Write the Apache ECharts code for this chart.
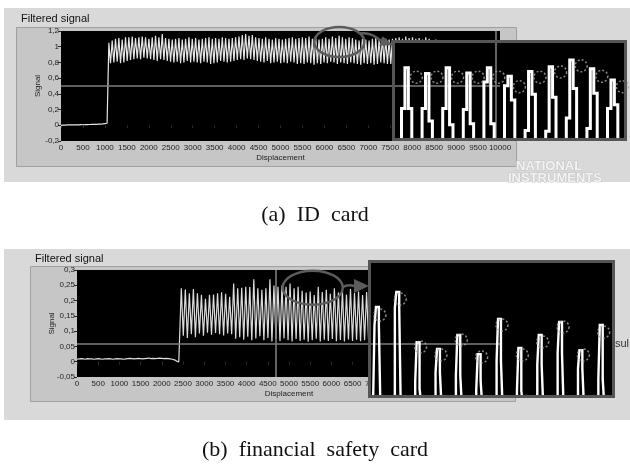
<!DOCTYPE html>
<html>
<head>
<meta charset="utf-8">
<script src="https://cdn.jsdelivr.net/npm/echarts@6/dist/echarts.min.js"></script>
<style>
  html, body { margin: 0; padding: 0; background: #ffffff; }
  #chart { width: 630px; height: 465px; }
</style>
</head>
<body>
<div id="chart"></div>
<script>
// ===== (a) ID card : filtered signal =====
const flatStep = 50;                       // sampling step of the quiet lead-in
const flatA = [0.000,0.003,0.002,0.005,0.004,0.006,0.004,0.007,0.006,0.008,0.007,
               0.009,0.008,0.010,0.011,0.012,0.011,0.014,0.015,0.017,0.020,0.026];
const oscStartA = 1090;                    // displacement of first peak
const halfCycleA = 38;                     // peak-to-trough spacing
const peaksA = [1.05,1.08,1.10,1.11,1.09,1.12,
  1.12,1.13,1.11,1.12,1.13,1.12,1.10,
  1.12,1.14,1.12,1.16,1.11,1.10,
  1.09,1.10,1.11,1.09,1.10,1.12,1.10,
  1.11,1.09,1.10,1.11,1.12,1.10,
  1.11,1.10,1.12,1.11,1.10,1.11,1.12,
  1.13,1.15,1.16,1.14,1.15,1.12,
  1.11,1.10,1.12,1.10,1.09,1.11,1.10,
  1.09,1.10,1.11,1.12,1.10,1.11,
  1.12,1.11,1.13,1.10,1.12,1.09,1.10,
  1.12,1.10,1.13,1.11,1.14,1.12,
  1.10,1.12,1.11,1.09,1.08,1.10,1.09,
  1.08,1.10,1.12,1.09,1.11,1.10,
  1.09,1.10,1.11,1.12,1.10,1.13,1.11,1.12,1.10,1.11,1.09,1.12,
  1.10,1.08,1.09,1.07,1.08,1.06,1.07,1.05,1.06,1.05,1.06,1.04];
const troughsA = [0.79,0.80,0.81,0.79,0.80,0.82,
  0.83,0.84,0.85,0.84,0.86,0.85,0.84,
  0.83,0.82,0.84,0.83,0.82,0.81,
  0.80,0.81,0.79,0.80,0.82,0.80,0.81,
  0.80,0.79,0.81,0.80,0.78,0.79,
  0.80,0.82,0.81,0.80,0.81,0.82,0.83,
  0.84,0.83,0.85,0.84,0.83,0.82,
  0.81,0.80,0.82,0.79,0.80,0.81,0.79,
  0.80,0.79,0.81,0.80,0.78,0.79,
  0.78,0.80,0.79,0.77,0.79,0.78,0.80,
  0.79,0.81,0.80,0.78,0.80,0.79,
  0.78,0.80,0.79,0.78,0.77,0.79,0.78,
  0.79,0.77,0.78,0.80,0.79,0.78,
  0.78,0.79,0.77,0.80,0.78,0.79,0.77,0.78,0.80,0.79,0.78,0.77,
  0.79,0.78,0.80,0.78,0.79,0.77,0.78,0.79,0.78,0.80,0.78,0.79];
const thresholdA = 0.5;
const cursorA = 9900;
const ringA = { x: 6340, y: 1.06 };        // highlighted stretch of the signal

// magnified peaks of (a): top, left-edge step and right-edge step per peak
const insetTopA   = [74, 68, 74, 68.5, 74, 65, 70, 75, 82, 73, 61];
const insetLeftA  = [31, 31, 31, 30, 59, 55, 8, 7, 21, 10, 31];
const insetRightA = [31, 18, 14, 15, 15, 40, 46, 43, 52, 47, 35];
const insetMarkA  = [64, 64, 64, 64, 64, 54, 64, 69.5, 76, 65, 54];

// ===== (b) financial safety card : filtered signal =====
const flatB = [0.008,0.009,0.010,0.009,0.008,0.010,0.009,0.009,0.008,0.009,
  0.010,0.009,0.008,0.009,0.009,0.010,0.009,0.008,0.009,0.010,
  0.009,0.009,0.008,0.009,0.010,0.011,0.010,0.009,0.010,0.011,
  0.010,0.009,0.010,0.011,0.012,0.010,0.011,0.010,0.011,0.012,
  0.011,0.010,0.011,0.010,0.009,0.008,0.006,0.002,-0.001];
const oscStartB = 2460;
const halfCycleB = 47.5;
const peaksB = [0.240,0.236,0.224,0.238,0.224,0.219,0.206,0.219,0.220,0.224,
  0.227,0.222,0.212,0.256,0.240,0.242,0.245,0.244,0.270,0.240,
  0.235,0.240,0.270,0.249,0.245,0.250,0.245,0.256,0.240,0.245,
  0.232,0.226,0.230,0.218,0.245,0.228,0.235,0.222,0.240,0.226,
  0.232,0.220,0.238,0.225,0.230,0.218,0.228,0.222];
const troughsB = [0.085,0.078,0.090,0.080,0.092,0.085,0.095,0.088,0.094,0.090,
  0.086,0.092,0.090,0.075,0.080,0.072,0.082,0.070,0.076,0.083,
  0.070,0.078,0.066,0.074,0.068,0.076,0.070,0.066,0.074,0.068,
  0.072,0.065,0.070,0.075,0.066,0.072,0.068,0.074,0.067,0.071,
  0.066,0.073,0.068,0.072,0.067,0.070,0.068,0.071];
const thresholdB = 0.062;
const cursorB = 4680;
const ringB = { x: 5560, y: 0.242 };

const insetTopB   = [66.7, 78, 40, 34.8, 45.5, 31, 57.6, 35.6, 45.5, 55.3, 34, 53];
const insetLeftB  = [53, 66, 10, 17, 15, 4, 26, 3, 23, 32, 20, 12];
const insetRightB = [53, 66, 5, 17, 15, 11, 26, 3, 23, 32, 20, 12];
const insetMarkB  = [60.6, 72.7, 36.4, 30.3, 41.7, 28.8, 53, 30.3, 40.2, 51.5, 30.3, 47.7];

const insetFloor = -6;   // troughs fall below the magnified window

// ---------- helpers ----------
function buildSignal(flat, oscStart, halfCycle, peaks, troughs) {
  const pts = flat.map((v, i) => [i * flatStep, v]);
  peaks.forEach((p, i) => {
    pts.push([oscStart + 2 * i * halfCycle, p]);
    pts.push([oscStart + (2 * i + 1) * halfCycle, troughs[i]]);
  });
  return pts;
}
// pixel-sample trace of the magnified peaks: each sample holds its level
// until the next one, so the trace is emitted with both corners of every step.
// Per peak: floor, left step, `topSamples` samples at the top, right step, floor...
function buildInset(tops, lefts, rights, perPeak, topSamples) {
  const samples = [];
  tops.forEach((t, k) => {
    const seq = [insetFloor, lefts[k]];
    for (let s = 0; s < topSamples; s++) seq.push(t);
    seq.push(rights[k]);
    for (let j = 0; j < perPeak; j++) samples.push(j < seq.length ? seq[j] : insetFloor);
  });
  const pts = [];
  samples.forEach((v, i) => { pts.push([i, v]); pts.push([i + 1, v]); });
  return pts;
}
// peak markers sit at the falling edge of each magnified peak
function buildMarks(marks, perPeak, topSamples) {
  return marks.map((m, k) => [k * perPeak + 2 + topSamples, m]);
}
const commaFmt = v => String(Math.round(v * 1000) / 1000).replace('.', ',');
const plainFmt = v => String(v);

const axisFont = 'Liberation Sans';
function mainX(grid) {
  return {
    type: 'value', gridIndex: grid, min: 0, max: 10000, interval: 500,
    axisLine: { show: false }, splitLine: { show: false },
    axisTick: { show: true, length: 3, lineStyle: { color: '#2a2a2a' } },
    axisLabel: { fontSize: 8, margin: 3, color: '#1e1e1e', fontFamily: axisFont, formatter: plainFmt,
                 showMinLabel: true, showMaxLabel: true, hideOverlap: false },
    name: 'Displacement', nameLocation: 'middle', nameGap: 13, nameMoveOverlap: false,
    nameTextStyle: { fontSize: 8, color: '#222', fontFamily: axisFont }
  };
}
function mainY(grid, min, max, interval, gap) {
  return {
    type: 'value', gridIndex: grid, min, max, interval,
    axisLine: { show: false }, splitLine: { show: false },
    axisTick: { show: true, length: 3, lineStyle: { color: '#2a2a2a' } },
    axisLabel: { fontSize: 8, margin: 2, color: '#1e1e1e', fontFamily: axisFont, formatter: commaFmt },
    name: 'Signal', nameLocation: 'middle', nameRotate: 90, nameGap: gap, nameMoveOverlap: false,
    nameTextStyle: { fontSize: 8, color: '#222', fontFamily: axisFont }
  };
}
function hiddenAxis(grid, min, max) {
  return { type: 'value', gridIndex: grid, min, max, show: false, splitLine: { show: false } };
}
function thresholdLines(y, x) {
  return {
    silent: true, symbol: 'none', label: { show: false },
    lineStyle: { color: '#7c7c7c', width: 1.6, type: 'solid' },
    data: [{ yAxis: y }, { xAxis: x }]
  };
}

const staticGraphics = [
  // LabVIEW front-panel backgrounds
  { id: 'panelA', type: 'rect', z: -10, shape: { x: 4, y: 8, width: 626, height: 174 }, style: { fill: '#d9d9d9' } },
  { id: 'panelB', type: 'rect', z: -10, shape: { x: 4, y: 249, width: 626, height: 171 }, style: { fill: '#d9d9d9' } },
  { id: 'frameA', type: 'rect', z: -9, shape: { x: 16.5, y: 27.5, width: 500, height: 139 }, style: { fill: '#c6c6c6', stroke: '#a0a0a0', lineWidth: 1 } },
  { id: 'frameB', type: 'rect', z: -9, shape: { x: 30.5, y: 266.5, width: 485, height: 135 }, style: { fill: '#c6c6c6', stroke: '#a0a0a0', lineWidth: 1 } },
  // magnifier windows
  { id: 'insetFillA', type: 'rect', z: 5, shape: { x: 393.5, y: 41.5, width: 232, height: 98 }, style: { fill: '#000' } },
  { id: 'insetEdgeA', type: 'rect', z: 12, shape: { x: 393.5, y: 41.5, width: 232, height: 98 }, style: { fill: 'none', stroke: '#555', lineWidth: 3 } },
  { id: 'insetFillB', type: 'rect', z: 5, shape: { x: 369.5, y: 261.5, width: 244, height: 135 }, style: { fill: '#000' } },
  { id: 'insetEdgeB', type: 'rect', z: 12, shape: { x: 369.5, y: 261.5, width: 244, height: 135 }, style: { fill: 'none', stroke: '#555', lineWidth: 3 } },
  // vendor watermark
  { id: 'niTop', type: 'text', z: 3, style: { text: 'NATIONAL', x: 516, y: 160, fill: '#f3f3f3', stroke: '#c2c2c2', lineWidth: 1, font: 'bold 13px "Liberation Sans"' } },
  { id: 'niBot', type: 'text', z: 3, style: { text: 'INSTRUMENTS', x: 508, y: 172, fill: '#f3f3f3', stroke: '#c2c2c2', lineWidth: 1, font: 'bold 13px "Liberation Sans"' } },
  // partially hidden front-panel label
  { id: 'resultLbl', type: 'text', z: 3, style: { text: 'sul', x: 615, y: 338, fill: '#333', font: '11px "Liberation Sans"' } }
];

const option = {
  animation: false,
  backgroundColor: '#ffffff',
  title: [
    { text: 'Filtered signal', left: 21, top: 13, padding: 0, textStyle: { fontSize: 11, fontWeight: 'normal', color: '#111', fontFamily: 'Liberation Sans' } },
    { text: 'Filtered signal', left: 35, top: 253, padding: 0, textStyle: { fontSize: 11, fontWeight: 'normal', color: '#111', fontFamily: 'Liberation Sans' } },
    { text: '(a)  ID  card', left: 'center', top: 199, textStyle: { fontSize: 22, fontWeight: 'normal', color: '#111', fontFamily: 'Liberation Serif' } },
    { text: '(b)  financial  safety  card', left: 'center', top: 434, textStyle: { fontSize: 22, fontWeight: 'normal', color: '#111', fontFamily: 'Liberation Serif' } }
  ],
  grid: [
    { left: 61, top: 31, width: 439, height: 110, show: true, backgroundColor: '#000', borderWidth: 0 },
    { left: 77, top: 270, width: 424, height: 107, show: true, backgroundColor: '#000', borderWidth: 0 },
    { left: 395, top: 43, width: 229, height: 95, show: false },
    { left: 371, top: 263, width: 241, height: 132, show: false }
  ],
  xAxis: [
    mainX(0), mainX(1),
    hiddenAxis(2, -0.89, 65.8),
    hiddenAxis(3, -1.41, 164.4)
  ],
  yAxis: [
    mainY(0, -0.2, 1.2, 0.2, 19),
    mainY(1, -0.05, 0.3, 0.05, 21),
    hiddenAxis(2, 0, 100),
    hiddenAxis(3, 0, 100)
  ],
  graphic: { elements: staticGraphics },
  series: [
    {
      name: 'signal (a)', type: 'line', xAxisIndex: 0, yAxisIndex: 0,
      data: buildSignal(flatA, oscStartA, halfCycleA, peaksA, troughsA),
      showSymbol: false, lineStyle: { color: '#e6e6e6', width: 1.2 },
      markLine: thresholdLines(thresholdA, cursorA)
    },
    {
      name: 'signal (b)', type: 'line', xAxisIndex: 1, yAxisIndex: 1,
      data: buildSignal(flatB, oscStartB, halfCycleB, peaksB, troughsB),
      showSymbol: false, lineStyle: { color: '#dcdcdc', width: 1.2 },
      markLine: thresholdLines(thresholdB, cursorB)
    },
    {
      name: 'zoom (a)', type: 'line', xAxisIndex: 2, yAxisIndex: 2, z: 10,
      data: buildInset(insetTopA, insetLeftA, insetRightA, 6, 1),
      showSymbol: false, lineStyle: { color: '#ffffff', width: 3, join: 'miter', miterLimit: 2 }
    },
    {
      name: 'zoom (b)', type: 'line', xAxisIndex: 3, yAxisIndex: 3, z: 10,
      data: buildInset(insetTopB, insetLeftB, insetRightB, 14, 2),
      showSymbol: false, lineStyle: { color: '#ffffff', width: 2.4, join: 'miter', miterLimit: 2 }
    },
    {
      name: 'peaks (a)', type: 'scatter', xAxisIndex: 2, yAxisIndex: 2, z: 11,
      data: buildMarks(insetMarkA, 6, 1), symbol: 'circle', symbolSize: 12, symbolOffset: [8, 0],
      itemStyle: { color: 'rgba(0,0,0,0)', borderColor: '#a8a8a8', borderWidth: 1.5, borderType: [2, 2] }
    },
    {
      name: 'peaks (b)', type: 'scatter', xAxisIndex: 3, yAxisIndex: 3, z: 11,
      data: buildMarks(insetMarkB, 14, 2), symbol: 'circle', symbolSize: 12, symbolOffset: [1, 0],
      itemStyle: { color: 'rgba(0,0,0,0)', borderColor: '#a8a8a8', borderWidth: 1.5, borderType: [2, 2] }
    }
  ]
};

const chart = echarts.init(document.getElementById('chart'), null, { renderer: 'canvas' });
chart.setOption(option);

// highlight rings and pointer arrows, anchored to the data they circle
function ringAndArrow(tag, grid, ring, rx, ry, startAngle, shaftEnd, tip, headHalf) {
  const [cx, cy] = chart.convertToPixel({ gridIndex: grid }, [ring.x, ring.y]);
  const sx = cx + rx * Math.cos(startAngle), sy = cy - ry * Math.sin(startAngle);
  const ex = shaftEnd[0], ey = shaftEnd[1];
  const dx = tip[0] - ex, dy = tip[1] - ey, len = Math.hypot(dx, dy);
  const px = -dy / len * headHalf, py = dx / len * headHalf;
  const color = '#5c5c5c';
  return [
    { id: 'ring' + tag, type: 'ellipse', z: 4, shape: { cx, cy, rx, ry }, style: { fill: 'none', stroke: color, lineWidth: 2.5 } },
    { id: 'shaft' + tag, type: 'bezierCurve', z: 4,
      shape: { x1: sx, y1: sy, x2: ex, y2: ey, cpx1: (sx + ex) / 2, cpy1: Math.min(sy, ey) - 2 },
      style: { fill: 'none', stroke: color, lineWidth: 2.5 } },
    { id: 'head' + tag, type: 'polygon', z: 4,
      shape: { points: [[tip[0], tip[1]], [ex + px, ey + py], [ex - px, ey - py]] },
      style: { fill: color } }
  ];
}
chart.setOption({
  graphic: {
    elements: [
      ...ringAndArrow('A', 0, ringA, 25, 15, 0.6, [381, 41], [393, 45], 5),
      ...ringAndArrow('B', 1, ringB, 30, 17, 0.05, [354, 286], [369, 286], 7)
    ]
  }
});
</script>
</body>
</html>
